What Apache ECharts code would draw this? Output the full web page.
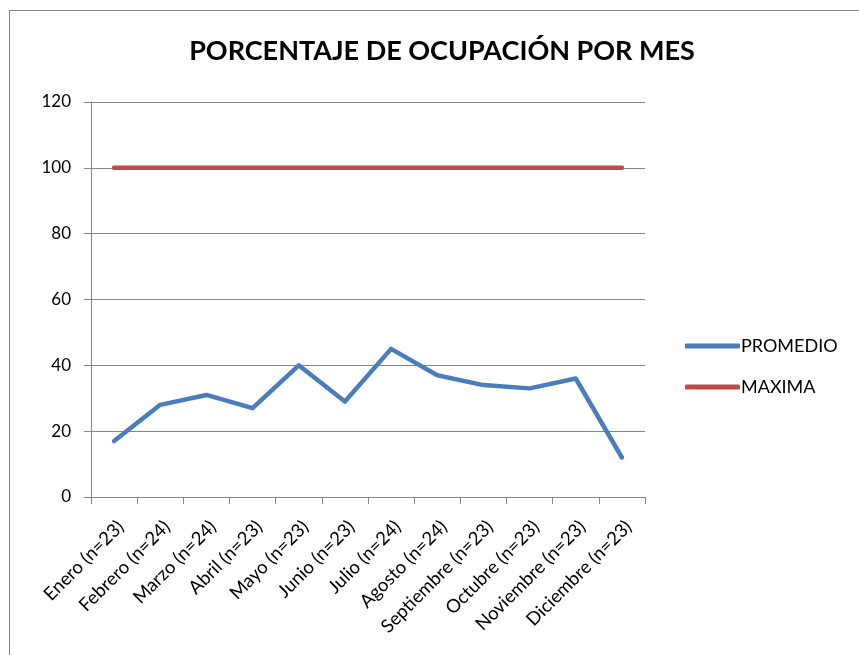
<!DOCTYPE html>
<html><head><meta charset="utf-8">
<script src="https://cdn.jsdelivr.net/npm/echarts@6/dist/echarts.min.js"></script>
<style>
html,body{margin:0;padding:0;background:#fff;}
#frame{position:absolute;left:9px;top:10px;width:900px;height:700px;border:1px solid #868686;box-sizing:border-box;}
#c{position:absolute;left:0;top:0;width:859px;height:655px;}
</style></head><body>
<div id="frame"></div>
<div id="c"></div>
<script>
const categories = ['Enero (n=23)','Febrero (n=24)','Marzo (n=24)','Abril (n=23)','Mayo (n=23)','Junio (n=23)','Julio (n=24)','Agosto (n=24)','Septiembre (n=23)','Octubre (n=23)','Noviembre (n=23)','Diciembre (n=23)'];
const promedio = [17,28,31,27,40,29,45,37,34,33,36,12];
const maxima = [100,100,100,100,100,100,100,100,100,100,100,100];
const seriesNames = ['PROMEDIO','MAXIMA'];
const FONT = 'Lato';
const chart = echarts.init(document.getElementById('c'));
chart.setOption({
  animation:false,
  backgroundColor:'transparent',
  title:{text:'PORCENTAJE DE OCUPACIÓN POR MES',left:437,top:33,textAlign:'center',
    textStyle:{fontFamily:FONT,fontSize:27,fontWeight:'bold',color:'#000'}},
  grid:{left:91,right:214,top:102,bottom:158},
  legend:{orient:'vertical',left:680,top:332,itemGap:23,itemWidth:55,itemHeight:5,icon:'roundRect',
    data:seriesNames,textStyle:{fontFamily:FONT,fontSize:18,color:'#000',padding:[0,0,0,-4]}},
  xAxis:{type:'category',data:categories,boundaryGap:true,
    axisLine:{lineStyle:{color:'#868686',width:1}},
    axisTick:{show:true,length:7,lineStyle:{color:'#868686'}},
    axisLabel:{rotate:45,interval:0,fontFamily:FONT,fontSize:18.5,color:'#000',margin:20,
      align:'right',verticalAlign:'top'}},
  yAxis:{type:'value',min:0,max:120,interval:20,
    axisLine:{show:true,lineStyle:{color:'#868686',width:1}},
    axisTick:{show:true,length:7,lineStyle:{color:'#868686'}},
    splitLine:{lineStyle:{color:'#868686',width:1}},
    axisLabel:{fontFamily:FONT,fontSize:17,color:'#000',margin:20}},
  series:[
    {name:seriesNames[0],type:'line',data:promedio,showSymbol:false,symbol:'none',
     lineStyle:{color:'#4A7EBB',width:4.5,cap:'round',join:'round'},itemStyle:{color:'#4A7EBB'}},
    {name:seriesNames[1],type:'line',data:maxima,showSymbol:false,symbol:'none',
     lineStyle:{color:'#BE4B48',width:4.5,cap:'round',join:'round'},itemStyle:{color:'#BE4B48'}}
  ]
});
</script></body></html>
